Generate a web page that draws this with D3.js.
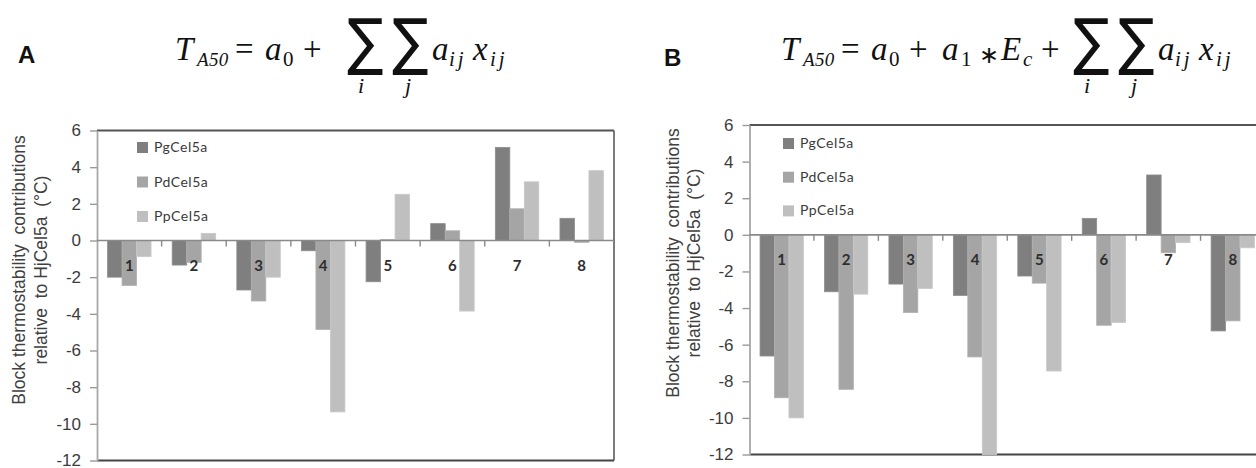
<!DOCTYPE html>
<html>
<head>
<meta charset="utf-8">
<script src="https://cdn.jsdelivr.net/npm/d3@7"></script>
<style>
  html, body { margin: 0; padding: 0; background: #fff; }
  svg { display: block; }
  text { white-space: pre; }
</style>
</head>
<body>
<svg id="chart" width="1256" height="468"></svg>
<script>
// Blocks (categories), series and axis ticks
const blocks = ["1", "2", "3", "4", "5", "6", "7", "8"];
const seriesNames = ["PgCel5a", "PdCel5a", "PpCel5a"];
const yTicks = [6, 4, 2, 0, -2, -4, -6, -8, -10, -12];

// Panel A: T_A50 = a0 + sum a_ij x_ij
const pgA = [-2.0, -1.34, -2.7, -0.56, -2.25, 0.92, 5.08, 1.21];
const pdA = [-2.45, -1.19, -3.3, -4.85, 0.06, 0.53, 1.73, -0.1];
const ppA = [-0.88, 0.39, -2.0, -9.35, 2.52, -3.85, 3.2, 3.81];

// Panel B: T_A50 = a0 + a1*Ec + sum a_ij x_ij
const pgB = [-6.62, -3.11, -2.69, -3.31, -2.25, 0.9, 3.27, -5.25];
const pdB = [-8.9, -8.44, -4.24, -6.67, -2.64, -4.94, -0.98, -4.7];
const ppB = [-10.0, -3.24, -2.93, -12.0, -7.44, -4.79, -0.43, -0.71];

const seriesColors = ["#7f7f7f", "#a5a5a5", "#bfbfbf"];
const seriesStrokes = ["#8e8e8e", "#b0b0b0", "#c9c9c9"];

const svg = d3.select("#chart");
svg.append("rect").attr("width", 1256).attr("height", 468).attr("fill", "#fff");

const AXIS_FONT = "'Liberation Sans', Arial, sans-serif";
const LEGEND_FONT = "Lato, 'Open Sans', sans-serif";
const MATH_FONT = "'Liberation Serif', 'Times New Roman', serif";
const SYMBOL_FONT = "'DejaVu Sans'";

function drawPanel(cfg) {
  const g = svg.append("g");
  const y = d3.scaleLinear().domain([-12, 6]).range([cfg.bottom, cfg.top]);
  const x0 = d3.scaleBand().domain(blocks).range([cfg.left, cfg.right]).padding(0);
  const x1 = d3.scaleBand().domain(seriesNames).range([0, x0.bandwidth()])
    .paddingInner(0).paddingOuter(0.73);

  // plot frame: top, right, bottom
  g.append("line").attr("x1", cfg.left).attr("x2", cfg.right)
    .attr("y1", cfg.top).attr("y2", cfg.top)
    .attr("stroke", "#555").attr("stroke-width", 2);
  if (cfg.rightBorder) {
    g.append("line").attr("x1", cfg.right).attr("x2", cfg.right)
      .attr("y1", cfg.top).attr("y2", cfg.bottom)
      .attr("stroke", "#5a5a5a").attr("stroke-width", 1.6);
  }
  g.append("line").attr("x1", cfg.left).attr("x2", cfg.right)
    .attr("y1", cfg.bottom).attr("y2", cfg.bottom)
    .attr("stroke", "#444").attr("stroke-width", 2);

  // value axis
  const ax = g.append("g").attr("transform", `translate(${cfg.left},0)`)
    .call(d3.axisLeft(y).tickValues(yTicks).tickSize(7).tickSizeOuter(0).tickPadding(9)
      .tickFormat(d => String(d)));
  ax.select(".domain").attr("stroke", "#a8a8a8").attr("stroke-width", 1.8);
  ax.selectAll(".tick line").attr("stroke", "#9a9a9a").attr("stroke-width", 1.4);
  ax.selectAll(".tick text")
    .attr("font-family", AXIS_FONT).attr("font-size", 17).attr("fill", "#3c3c3c")
    .attr("dy", "0.32em");

  // bars
  const series = [cfg.pg, cfg.pd, cfg.pp];
  series.forEach((vals, si) => {
    g.append("g").selectAll("rect")
      .data(vals.map((v, i) => ({ block: blocks[i], v })))
      .join("rect")
      .attr("x", d => x0(d.block) + x1(seriesNames[si]))
      .attr("y", d => y(Math.max(0, d.v)))
      .attr("width", x1.bandwidth())
      .attr("height", d => Math.abs(y(d.v) - y(0)))
      .attr("fill", seriesColors[si])
      .attr("stroke", seriesStrokes[si])
      .attr("stroke-width", 0.8);
  });

  // category axis at zero
  g.append("line").attr("x1", cfg.left).attr("x2", cfg.right)
    .attr("y1", y(0)).attr("y2", y(0))
    .attr("stroke", "#8a8a8a").attr("stroke-width", 1.6);
  g.append("g").selectAll("line")
    .data(blocks.slice(1))
    .join("line")
    .attr("x1", d => x0(d)).attr("x2", d => x0(d))
    .attr("y1", y(0)).attr("y2", y(0) + 6)
    .attr("stroke", "#8a8a8a").attr("stroke-width", 1.4);

  g.append("g").selectAll("text")
    .data(blocks)
    .join("text")
    .attr("x", d => x0(d) + x0.bandwidth() / 2)
    .attr("y", y(0) + 30)
    .attr("text-anchor", "middle")
    .attr("font-family", LEGEND_FONT).attr("font-size", 15).attr("font-weight", 700)
    .attr("fill", "#2e2e2e")
    .text(d => d);

  // legend
  const lg = g.append("g");
  seriesNames.forEach((name, i) => {
    const ly = cfg.legendY + i * cfg.legendStep;
    lg.append("rect")
      .attr("x", cfg.legendX).attr("y", ly - 10)
      .attr("width", 11).attr("height", 11)
      .attr("fill", seriesColors[i]);
    lg.append("text")
      .attr("x", cfg.legendX + 17).attr("y", ly)
      .attr("font-family", LEGEND_FONT).attr("font-size", 14)
      .attr("letter-spacing", "0.5px")
      .attr("fill", "#3a3a3a")
      .text(name);
  });

  // value-axis title
  const tg = g.append("g")
    .attr("font-family", AXIS_FONT).attr("font-size", 17.5).attr("fill", "#404040")
    .attr("text-anchor", "middle");
  tg.append("text")
    .attr("transform", `translate(${cfg.titleX1},${cfg.titleY}) rotate(-90)`)
    .text("Block thermostability  contributions");
  tg.append("text")
    .attr("transform", `translate(${cfg.titleX2},${cfg.titleY}) rotate(-90)`)
    .text("relative  to HjCel5a  (°C)");
}

drawPanel({
  left: 97, right: 614, top: 130.5, bottom: 460.5, rightBorder: true,
  pg: pgA, pd: pdA, pp: ppA,
  legendX: 137, legendY: 152, legendStep: 34.5,
  titleX1: 25, titleX2: 47, titleY: 270
});

drawPanel({
  left: 749.5, right: 1265, top: 125, bottom: 454.5, rightBorder: false,
  pg: pgB, pd: pdB, pp: ppB,
  legendX: 783, legendY: 148, legendStep: 33.7,
  titleX1: 679, titleX2: 700, titleY: 263
});

// panel letters
svg.append("text").attr("x", 18).attr("y", 63)
  .attr("font-family", AXIS_FONT).attr("font-weight", 700).attr("font-size", 24)
  .attr("fill", "#111").text("A");
svg.append("text").attr("x", 664).attr("y", 66)
  .attr("font-family", AXIS_FONT).attr("font-weight", 700).attr("font-size", 24)
  .attr("fill", "#111").text("B");

// model equations
function mt(x, y, str, size, italic, spacing) {
  const t = svg.append("text")
    .attr("x", x).attr("y", y)
    .attr("font-family", MATH_FONT).attr("font-size", size)
    .attr("font-style", italic ? "italic" : "normal")
    .attr("fill", "#111")
    .text(str);
  if (spacing) t.attr("letter-spacing", spacing);
  return t;
}

// large summation sign, fitted to a box using the glyph's ink bounds
const measureCtx = document.createElement("canvas").getContext("2d");
function sigma(left, top, w, h) {
  const fs = 60;
  measureCtx.font = `${fs}px ${SYMBOL_FONT}`;
  const m = measureCtx.measureText("∑");
  const inkW = m.actualBoundingBoxLeft + m.actualBoundingBoxRight;
  const inkH = m.actualBoundingBoxAscent + m.actualBoundingBoxDescent;
  const sx = w / inkW, sy = h / inkH;
  const tx = left + m.actualBoundingBoxLeft * sx;
  const ty = top + m.actualBoundingBoxAscent * sy;
  svg.append("text")
    .attr("transform", `translate(${tx},${ty}) scale(${sx},${sy})`)
    .attr("font-family", SYMBOL_FONT).attr("font-size", fs)
    .attr("fill", "#111")
    .text("∑");
}
function sumTail(x, base) {
  // double sum over i, j followed by a_ij x_ij
  sigma(x, 17, 36, 58);
  sigma(x + 45, 17, 36, 58);
  mt(x + 11, 93, "i", 22, true);
  mt(x + 58, 93, "j", 22, true);
  mt(x + 85, base, "a", 33, true);
  mt(x + 102, base + 6, "ij", 21, true, "3px");
  mt(x + 126, base, "x", 33, true);
  mt(x + 143, base + 6, "ij", 21, true, "3px");
}
function asterisk(x, y) {
  svg.append("text").attr("x", x).attr("y", y)
    .attr("font-family", SYMBOL_FONT).attr("font-size", 24)
    .attr("fill", "#111").text("∗");
}

// A
mt(175, 60, "T", 33, true);
mt(197, 66, "A50", 19, true, "0.3px");
mt(235, 60, "=", 33, false);
mt(265, 60, "a", 33, true);
mt(283, 66, "0", 21, false);
mt(303, 60, "+", 33, false);
sumTail(347, 60);

// B
mt(781, 60, "T", 33, true);
mt(803, 66, "A50", 19, true, "0.3px");
mt(841, 60, "=", 33, false);
mt(871, 60, "a", 33, true);
mt(889, 66, "0", 21, false);
mt(909, 60, "+", 33, false);
mt(942, 60, "a", 33, true);
mt(961, 66, "1", 21, false);
asterisk(979, 63);
mt(1001, 60, "E", 33, true);
mt(1023, 66, "c", 21, true);
mt(1041, 60, "+", 33, false);
sumTail(1073, 60);
</script>
</body>
</html>
